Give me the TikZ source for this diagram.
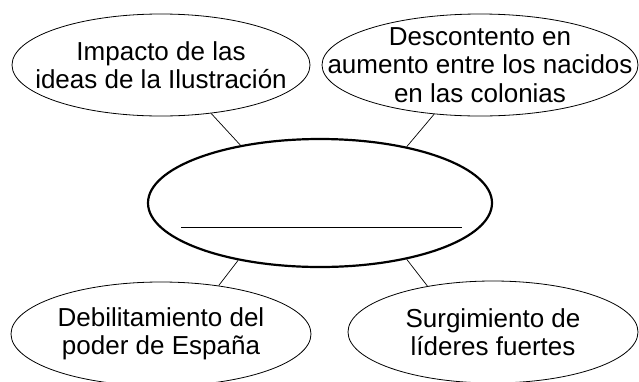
\documentclass[tikz,border=0pt]{standalone}
\usepackage{fontspec}
\setmainfont{Liberation Sans}
\usetikzlibrary{shapes.geometric}

\begin{document}
\begin{tikzpicture}[x=1pt,y=-1pt,
    causa/.style={draw, ellipse, inner xsep=-50pt, inner ysep=-20pt, align=center, font=\fontsize{26}{28.5}\selectfont, line width=0.8pt}]
			\useasboundingbox (0,0) rectangle (639,381);
			\node[causa, minimum width=298pt, minimum height=102pt] at(161,65) (causa1) {Impacto de las\\ideas de la Ilustración};
			\node[causa, minimum width=316pt, minimum height=102pt] at(480,65) (causa2) {Descontento en\\aumento entre los nacidos\\en las colonias};
			\node[causa, minimum width=300pt, minimum height=104pt] at(161,334) (causa3) {Debilitamiento del\\poder de España};
			\node[causa, minimum width=290pt, minimum height=102pt] at(493,332) (causa4) {Surgimiento de\\líderes fuertes};
			\node[draw, ellipse, line width=2.2pt, minimum width=344pt, minimum height=128pt] at(320,203) (centro) {};
			\coordinate (blancoA) at(181,227);
			\coordinate (blancoB) at(462,227);
			
			\draw[line width=1pt] (blancoA) -- (blancoB);
			\draw[line width=0.7pt] (centro.144) -- (causa1.316);
			\draw[line width=0.7pt] (centro.33) -- (causa2.227);
			\draw[line width=0.7pt] (centro.215) -- (causa3.40);
			\draw[line width=0.7pt] (centro.327) -- (causa4.145);
			\end{tikzpicture}
\end{document}
